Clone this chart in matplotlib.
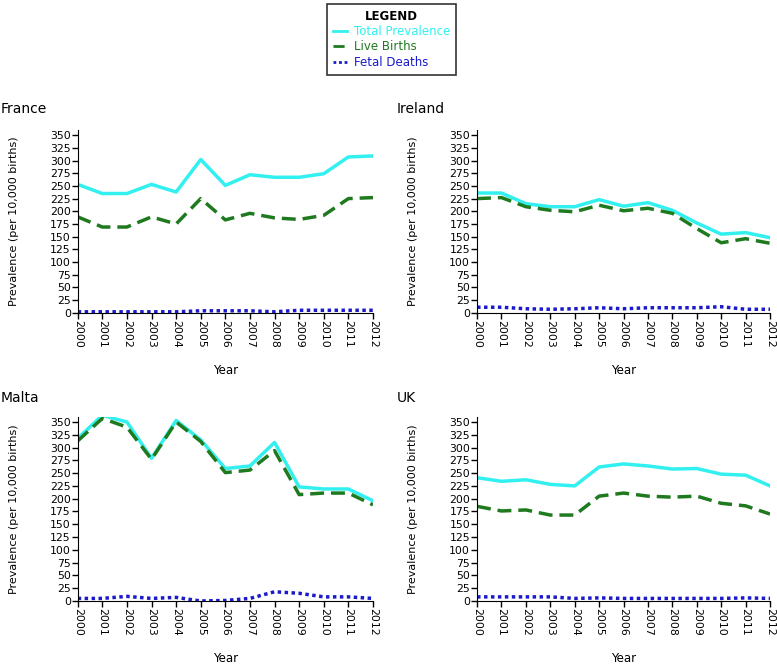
import numpy as np
import matplotlib
matplotlib.use("Agg")
import matplotlib.pyplot as plt

years = list(range(2000, 2013))

france_total = [253, 235, 235, 253, 238, 302, 251, 272, 267, 267, 274, 307, 309]
france_live = [189, 169, 169, 189, 175, 225, 183, 196, 187, 184, 192, 225, 227]
france_fetal = [2, 2, 2, 2, 2, 4, 4, 4, 2, 5, 5, 5, 5]

ireland_total = [236, 236, 215, 209, 209, 223, 210, 217, 202, 177, 155, 158, 148]
ireland_live = [225, 227, 209, 202, 199, 212, 201, 206, 196, 166, 138, 146, 137]
ireland_fetal = [11, 11, 8, 7, 8, 10, 8, 10, 10, 10, 12, 7, 7]

malta_total = [318, 363, 350, 279, 353, 315, 259, 264, 310, 223, 219, 219, 196]
malta_live = [313, 357, 340, 277, 350, 312, 251, 256, 294, 208, 211, 211, 188]
malta_fetal = [5, 5, 9, 5, 7, 0, 1, 5, 18, 15, 8, 8, 5]

uk_total = [241, 234, 237, 228, 225, 262, 268, 264, 258, 259, 248, 246, 225]
uk_live = [185, 176, 178, 168, 168, 205, 211, 205, 203, 205, 191, 186, 170]
uk_fetal = [8, 8, 8, 8, 5, 6, 5, 5, 5, 5, 5, 6, 5]

panels = [
    ("France", france_total, france_live, france_fetal),
    ("Ireland", ireland_total, ireland_live, ireland_fetal),
    ("Malta", malta_total, malta_live, malta_fetal),
    ("UK", uk_total, uk_live, uk_fetal),
]

c_total = '#33f0f0'
c_live = '#1f7a1f'
c_fetal = '#1a1acc'

fig = plt.figure(figsize=(7.77, 6.67), dpi=100)
plt.rcParams['font.family'] = ['DejaVu Sans']

# axes rectangles in figure fraction (left, bottom, width, height)
rects = [
    (0.100, 0.531, 0.380, 0.274),
    (0.614, 0.531, 0.377, 0.274),
    (0.100, 0.099, 0.380, 0.276),
    (0.614, 0.099, 0.377, 0.276),
]
# title positions (figure fraction)
title_pos = [(0.001, 0.836), (0.511, 0.836), (0.001, 0.404), (0.511, 0.404)]

handles = None
for (name, tot, live, fetal), r, tp in zip(panels, rects, title_pos):
    ax = fig.add_axes(r)
    h1, = ax.plot(years, tot, color=c_total, lw=2.5, label='Total Prevalence')
    h2, = ax.plot(years, live, color=c_live, lw=2.5, ls=(0, (4, 2)), label='Live Births')
    h3, = ax.plot(years, fetal, color=c_fetal, lw=2.5, ls=(0, (1, 1)), label='Fetal Deaths')
    handles = [h1, h2, h3]
    ax.set_xlim(2000, 2012)
    ax.set_ylim(0, 360)
    ax.set_yticks(np.arange(0, 351, 25))
    ax.set_xticks(years)
    ax.set_xticklabels([str(y) for y in years], rotation=-90)
    ax.tick_params(axis='both', labelsize=7.8, length=4, width=1, pad=1)
    for s in ['top', 'right']:
        ax.spines[s].set_visible(False)
    ax.set_ylabel('Prevalence (per 10,000 births)', fontsize=8)
    ax.yaxis.set_label_coords(-0.2, 0.5)
    ax.set_xlabel('Year', fontsize=8.5, labelpad=12)
    fig.text(tp[0], tp[1], name, fontsize=10, ha='left', va='center')

leg = fig.legend(handles=handles, loc='upper center', bbox_to_anchor=(0.504, 0.996),
                 title='LEGEND', fontsize=8.5, handlelength=1.2, frameon=True,
                 fancybox=False, edgecolor='black', borderpad=0.5, labelspacing=0.2,
                 handletextpad=0.6, borderaxespad=0.1)
leg.get_title().set_fontweight('bold')
leg.get_title().set_fontsize(8.5)
leg.get_frame().set_linewidth(1.2)
for t, c in zip(leg.get_texts(), [c_total, c_live, c_fetal]):
    t.set_color(c)
for lh in leg.legend_handles:
    lh.set_linewidth(2)

fig.savefig('out.png', dpi=100)
